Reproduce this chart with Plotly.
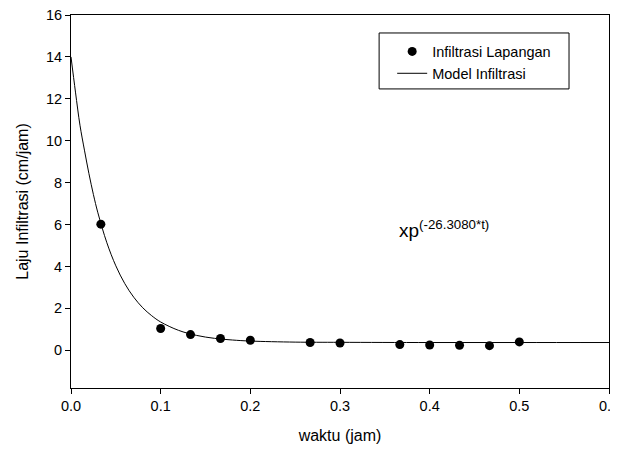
import plotly.graph_objects as go

# observed infiltration rate (cm/jam) vs time (jam)
t_obs = [0.0333, 0.1, 0.1333, 0.1667, 0.2, 0.2667, 0.3, 0.3667, 0.4, 0.4333, 0.4667, 0.5]
f_obs = [6.02, 1.04, 0.75, 0.56, 0.48, 0.37, 0.35, 0.27, 0.25, 0.24, 0.22, 0.40]

# model curve
t_model = [0, 0.005, 0.01, 0.015, 0.02, 0.025, 0.03, 0.04, 0.05, 0.06, 0.07, 0.08,
           0.09, 0.10, 0.12, 0.14, 0.16, 0.18, 0.20, 0.25, 0.30, 0.40, 0.50, 0.60]
f_model = [14.0, 12.32, 10.74, 9.55, 8.43, 7.43, 6.56, 5.13, 4.03, 3.18, 2.53, 2.03,
           1.65, 1.35, 0.95, 0.71, 0.57, 0.49, 0.44, 0.39, 0.38, 0.37, 0.37, 0.37]

x_ticks = [0.0, 0.1, 0.2, 0.3, 0.4, 0.5, 0.6]
y_ticks = [0, 2, 4, 6, 8, 10, 12, 14, 16]

FONT = "Liberation Sans, Arial, sans-serif"

fig = go.Figure()
fig.add_trace(go.Scatter(
    x=t_obs, y=f_obs, mode="markers", name="Infiltrasi Lapangan",
    marker=dict(color="black", size=9),
))
fig.add_trace(go.Scatter(
    x=t_model, y=f_model, mode="lines", name="Model Infiltrasi",
    line=dict(color="black", width=1, shape="spline"),
))

axis = dict(
    showline=True, linecolor="black", linewidth=1, mirror=True,
    ticks="outside", ticklen=5, tickcolor="black", tickwidth=1,
    showgrid=False, zeroline=False, automargin=False,
    ticklabeloverflow="allow",
    tickfont=dict(family=FONT, size=14.5, color="black"),
)
fig.update_xaxes(
    **axis, range=[0, 0.6], tickvals=x_ticks, tickformat=".1f",
    title=dict(text="waktu (jam)", font=dict(family=FONT, size=16, color="black"), standoff=16),
)
fig.update_yaxes(
    **axis, range=[-1.8, 16], tickvals=y_ticks,
    title=dict(text="Laju Infiltrasi (cm/jam)", font=dict(family=FONT, size=16, color="black"), standoff=13),
)

# page body has an 8px margin, so the figure sits 8px right and down
fig.update_layout(
    template="none",
    width=618, height=452,
    margin=dict(l=63, r=17, t=7, b=72, autoexpand=False),
    plot_bgcolor="white", paper_bgcolor="white",
    font=dict(family=FONT, color="black"),
    showlegend=True,
    legend=dict(
        x=0.597, y=0.945, xanchor="left", yanchor="top",
        bgcolor="rgba(0,0,0,0)", borderwidth=0,
        font=dict(family=FONT, size=14.5, color="black"),
        itemwidth=30, tracegroupgap=0,
    ),
    shapes=[dict(
        type="rect", xref="paper", yref="paper",
        x0=0.5727, x1=0.9257, y0=0.8018, y1=0.9518,
        line=dict(color="black", width=1),
    )],
    annotations=[dict(
        x=0.3636, y=5.8, xref="x", yref="y", xanchor="left", yanchor="middle",
        text="xp<sup>(-26.3080*t)</sup>", showarrow=False,
        font=dict(family=FONT, size=19, color="black"),
    )],
)

fig.write_html("out.html")
